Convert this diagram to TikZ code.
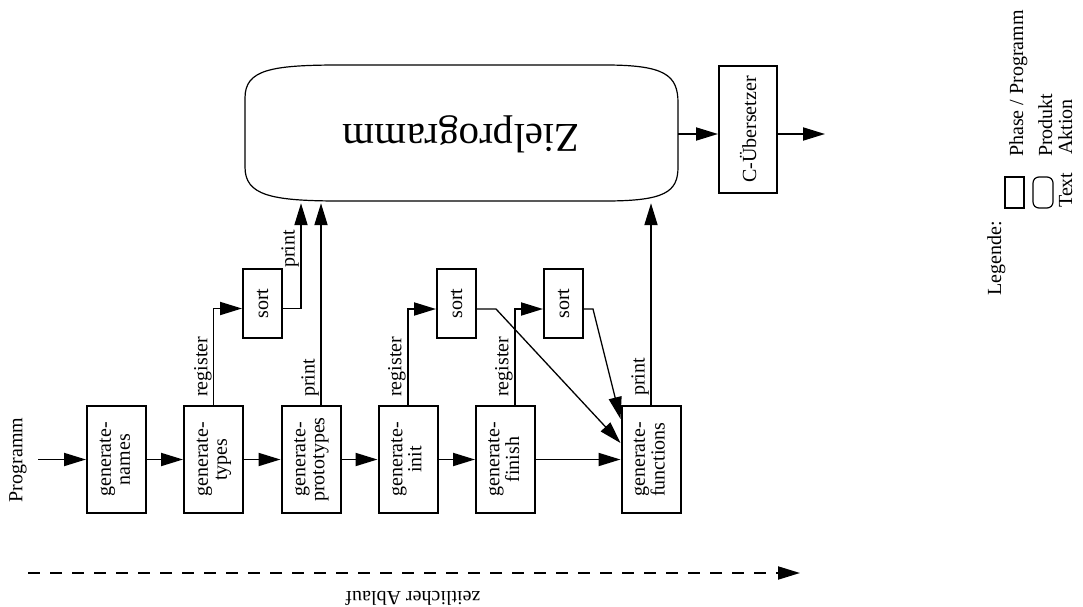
\documentclass[tikz,border=0pt]{standalone}
\usepackage{fontspec}
\usepackage{graphicx}
\setmainfont{Liberation Serif}
\usetikzlibrary{arrows.meta,calc}
\newcommand\rottext[1]{\rotatebox{90}{\begin{tabular}{@{}c@{}}#1\end{tabular}}}
\begin{document}
\begin{tikzpicture}[x=1pt,y=-1pt,
  font=\fontsize{20}{19}\selectfont,
  phase/.style={draw, line width=2pt, minimum width=59pt, minimum height=107pt, inner sep=0pt},
  sortbox/.style={draw, line width=2pt, minimum width=39pt, minimum height=69pt, inner sep=0pt},
  tip/.style={-{Triangle[length=22pt,width=13pt]}},
  flow/.style={line width=1.9pt, tip},
  thinflow/.style={line width=1.3pt, tip},
  lbl/.style={rotate=90, anchor=south west, inner sep=0pt},
  leg/.style={rotate=90, anchor=base west, inner sep=0pt},
]
\useasboundingbox (0,0) rectangle (1083,607);

% phases of the code generator
\node[phase] (names)      at (116.5,459.5) {\rottext{generate-\\names}};
\node[phase] (types)      at (213.5,459.5) {\rottext{generate-\\types}};
\node[phase] (prototypes) at (311,459.5)   {\rottext{generate-\\prototypes}};
\node[phase] (init)       at (408,459.5)   {\rottext{generate-\\init}};
\node[phase] (finish)     at (505.5,459.5) {\rottext{generate-\\finish}};
\node[phase] (functions)  at (651,459.5)   {\rottext{generate-\\functions}};

% sorting steps
\node[sortbox] (sortA) at (262.5,303.5) {\rotatebox{90}{sort}};
\node[sortbox] (sortB) at (456.5,303.5) {\rotatebox{90}{sort}};
\node[sortbox] (sortC) at (563.5,303.5) {\rotatebox{90}{sort}};

% target program (product)
\draw[line width=1.2pt] (245,98) .. controls (245,70) and (270,65) .. (340,65) -- (605,65)
  .. controls (665,65) and (678,75) .. (678,103) -- (678,167)
  .. controls (678,192) and (665,201) .. (605,201) -- (340,201)
  .. controls (270,201) and (245,195) .. (245,167) -- cycle;
\node[minimum width=433pt, minimum height=138pt, inner sep=0pt] (ziel) at (461.5,134) {};
\node[rotate=180, font=\fontsize{41}{45}\selectfont] (zieltext) at (461.5,134.5) {Zielprogramm};

% C compiler
\node[draw, line width=2pt, minimum width=58pt, minimum height=127pt, inner sep=0pt] (cc)
  at (748,129.5) {\rotatebox{90}{C-Übersetzer}};

% input
\node[rotate=90] (prog) at (18,460) {Programm};
\coordinate (in) at (38,459.5);
\draw[flow] (in) -- (names.west);

% main chain
\draw[flow] (names.east) -- (types.west);
\draw[flow] (types.east) -- (prototypes.west);
\draw[flow] (prototypes.east) -- (init.west);
\draw[flow] (init.east) -- (finish.west);
\draw[flow] (finish.east) -- (functions.west);

% register
\draw[flow] (types.north) |- ([yshift=-5pt]sortA.west);
\draw[flow] (init.north) |- ([yshift=-5.5pt]sortB.west);
\draw[flow] ([xshift=9.5pt]finish.north) |- ([yshift=-5.5pt]sortC.west);
\node[lbl] at (212,397) {register};
\node[lbl] at (406,397) {register};
\node[lbl] at (513,397) {register};

% print
\coordinate (pa) at (301,0);
\draw[flow] ([yshift=-5pt]sortA.east) -| (pa |- ziel.south);
\draw[flow] ([xshift=10pt]prototypes.north) -- ([xshift=10pt]prototypes.north |- ziel.south);
\draw[flow] (functions.north) -- (functions.north |- ziel.south);
\node[lbl] at (299,268) {print};
\node[lbl] at (319,397) {print};
\node[lbl] at (649,396) {print};

% sorted results into generate-functions
\draw[thinflow] ([yshift=-5.5pt]sortB.east) -- ++(19,0) -- ([yshift=16.5pt]functions.west);
\draw[thinflow] ([yshift=-5.5pt]sortC.east) -- ++(9,0) -- ([yshift=40.5pt]functions.west);

% compiler
\draw[flow] (ziel.east) -- (cc.west |- ziel.east);
\coordinate (out) at (825,134);
\draw[flow] (cc.east |- out) -- (out);

% time axis
\coordinate (t0) at (28,573);
\coordinate (t1) at (800,573);
\draw[line width=1.9pt, dash pattern=on 12pt off 10pt, tip] (t0) -- (t1);
\node[rotate=180] (ablauf) at (413,598) {zeitlicher Ablauf};

% legend
\node[leg] (legende) at (1001,296) {Legende:};
\node[draw, line width=2pt, minimum width=19pt, minimum height=31pt, inner sep=0pt] (legA) at (1014.5,192.5) {};
\node[draw, line width=1.2pt, rounded corners=6pt, minimum width=20pt, minimum height=31pt, inner sep=0pt] (legB) at (1043,192.5) {};
\node[leg] (lphase) at (1023,157) {Phase / Programm};
\node[leg] (lprod) at (1052,157) {Produkt};
\node[leg] (ltext) at (1072,208) {Text};
\node[leg] (lakt) at (1072,155) {Aktion};
\end{tikzpicture}
\end{document}
